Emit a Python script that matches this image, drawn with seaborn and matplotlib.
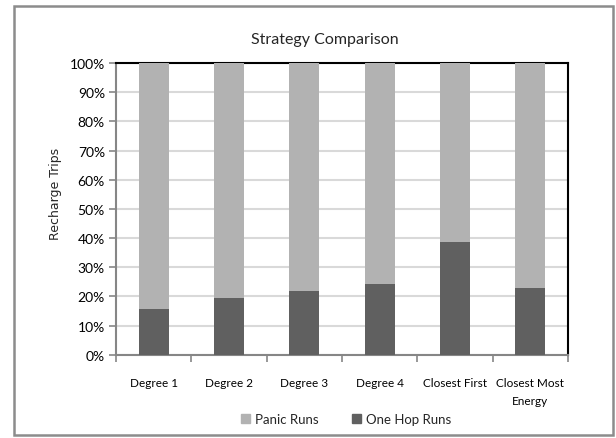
import matplotlib
matplotlib.use("Agg")
import matplotlib.pyplot as plt
from matplotlib.patches import Rectangle
from matplotlib.ticker import FixedLocator, PercentFormatter
import numpy as np
import pandas as pd
import seaborn as sns

# Strategy comparison data (share of recharge trips, %)
strategies = ["Degree 1", "Degree 2", "Degree 3", "Degree 4",
              "Closest First", "Closest Most\nEnergy"]
one_hop_runs = [15.7, 19.4, 21.8, 24.3, 38.7, 22.9]
panic_runs = [100 - v for v in one_hop_runs]
y_ticks = [0, 10, 20, 30, 40, 50, 60, 70, 80, 90, 100]

light = "#b2b2b2"
dark = "#606060"

sns.set_theme(style="white")
plt.rcParams["font.family"] = ["Lato", "DejaVu Sans"]

fig = plt.figure(figsize=(6.16, 4.39), dpi=100)
ax = fig.add_axes([0.1883, 0.1898, 0.7338, 0.6644])

df = pd.DataFrame({
    "strategy": strategies,
    "one_hop": one_hop_runs,
    "total": [o + p for o, p in zip(one_hop_runs, panic_runs)],
})

# stacked bars: full column (panic on top) then one-hop segment at the bottom
sns.barplot(data=df, x="strategy", y="total", color=light, width=0.4,
            saturation=1, linewidth=0, ax=ax, zorder=3)
sns.barplot(data=df, x="strategy", y="one_hop", color=dark, width=0.4,
            saturation=1, linewidth=0, ax=ax, zorder=4)

ax.set_xlim(-0.5, len(strategies) - 0.5)
ax.set_ylim(0, 100)
ax.set_yticks(y_ticks)
ax.yaxis.set_major_formatter(PercentFormatter(decimals=0))
ax.grid(axis="y", color="#d9d9d9", linewidth=1.5, zorder=0)
ax.set_axisbelow(True)

# category boundary ticks on x
ax.xaxis.set_minor_locator(FixedLocator(np.arange(-0.5, len(strategies), 1.0)))
ax.tick_params(axis="x", which="major", length=0, pad=16, labelsize=8.5,
               colors="black")
ax.tick_params(axis="x", which="minor", length=5, width=1.2, color="#868686",
               bottom=True)
ax.tick_params(axis="y", which="major", length=5, width=1.2, color="#868686",
               left=True, labelsize=10, pad=3, labelcolor="black")
for lbl in ax.get_xticklabels():
    lbl.set_linespacing(1.75)

ax.set_xlabel("")
ax.set_ylabel("Recharge Trips", family=["DejaVu Sans"], fontsize=9,
              va="center")
ax.yaxis.set_label_coords(-0.133, 0.556)

for side in ("left", "bottom"):
    ax.spines[side].set_color("#868686")
    ax.spines[side].set_linewidth(1.5)
for side in ("top", "right"):
    ax.spines[side].set_visible(True)
    ax.spines[side].set_color("black")
    ax.spines[side].set_linewidth(1.5)

fig.text(325 / 616, 1 - 40 / 439, "Strategy Comparison", ha="center",
         va="center", fontsize=11.5)

handles = [Rectangle((0, 0), 1, 1, color=light),
           Rectangle((0, 0), 1, 1, color=dark)]
fig.legend(handles, ["Panic Runs", "One Hop Runs"], loc="center",
           bbox_to_anchor=(346 / 616, 1 - 420 / 439), ncol=2, frameon=False,
           fontsize=9.5, handlelength=0.7, handleheight=0.7, handletextpad=0.4,
           columnspacing=2.5)

# outer chart border
fig.patches.append(Rectangle((14 / 616, 3 / 439), 599 / 616, 429 / 439,
                             transform=fig.transFigure, fill=False,
                             edgecolor="#8c8c8c", linewidth=1.8))

fig.savefig("out.png", dpi=100)
